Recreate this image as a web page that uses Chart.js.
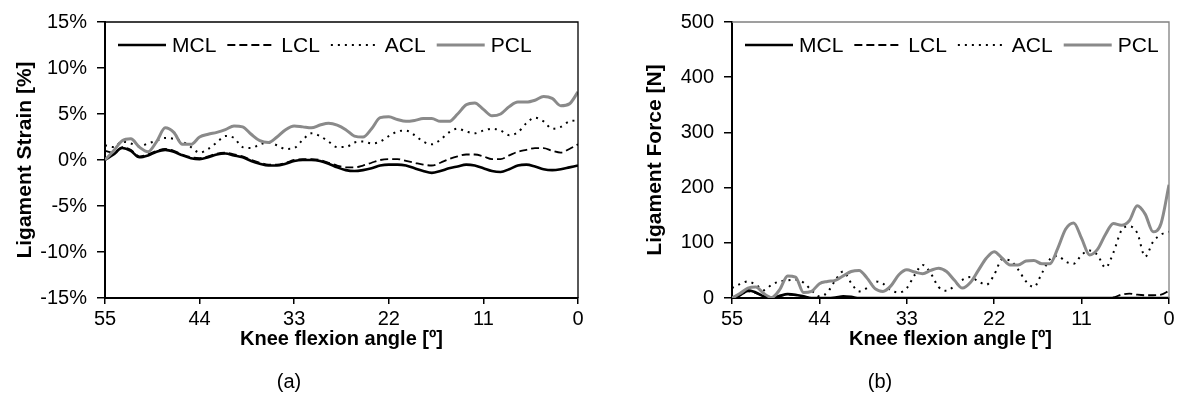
<!DOCTYPE html>
<html>
<head>
<meta charset="utf-8">
<script src="https://cdn.jsdelivr.net/npm/chart.js@4/dist/chart.umd.min.js"></script>
<style>
  body { margin: 0; background: #fff; }
  .panel { position: absolute; top: 0; width: 591px; height: 416px; }
</style>
</head>
<body>
<div class="panel" style="left:0"><canvas id="chartA"></canvas></div>
<div class="panel" style="left:591px"><canvas id="chartB"></canvas></div>
<script>
// knee flexion angle, degrees (x axis runs 55 -> 0)
const angles = [55, 54, 53, 52, 51, 50, 49, 48, 47, 46, 45, 44, 43, 42, 41, 40, 39, 38, 37, 36,
  35, 34, 33, 32, 31, 30, 29, 28, 27, 26, 25, 24, 23, 22, 21, 20, 19, 18, 17, 16,
  15, 14, 13, 12, 11, 10, 9, 8, 7, 6, 5, 4, 3, 2, 1, 0];
const angleTicks = [55, 44, 33, 22, 11, 0];
const ligaments = ['MCL', 'LCL', 'ACL', 'PCL'];

// (a) ligament strain, %
const strainMCL = [0.0, 0.6, 1.3, 1.0, 0.3, 0.5, 0.9, 1.1, 0.9, 0.5, 0.2, 0.1, 0.3, 0.6, 0.7, 0.5, 0.3, -0.1, -0.4, -0.6,
  -0.6, -0.4, -0.1, 0.0, 0.0, -0.1, -0.4, -0.8, -1.1, -1.2, -1.1, -0.9, -0.6, -0.5, -0.5, -0.6, -0.9, -1.2, -1.4, -1.2,
  -0.9, -0.7, -0.5, -0.6, -0.9, -1.2, -1.3, -1.0, -0.6, -0.5, -0.7, -1.0, -1.1, -1.0, -0.8, -0.6];
const strainLCL = [1.0, 0.8, 1.4, 1.1, 0.4, 0.6, 1.0, 1.2, 1.0, 0.6, 0.3, 0.2, 0.4, 0.7, 0.8, 0.6, 0.4, 0.0, -0.3, -0.5,
  -0.5, -0.3, 0.0, 0.1, 0.1, 0.0, -0.3, -0.6, -0.8, -0.8, -0.6, -0.3, 0.0, 0.1, 0.1, -0.1, -0.3, -0.5, -0.6, -0.3,
  0.1, 0.4, 0.6, 0.6, 0.4, 0.1, 0.1, 0.5, 0.9, 1.1, 1.3, 1.3, 1.0, 0.8, 1.2, 1.7];
const strainACL = [1.6, 1.4, 2.0, 1.8, 1.5, 1.8, 2.1, 2.4, 2.3, 2.0, 1.4, 0.8, 1.2, 1.9, 2.6, 2.4, 1.4, 1.3, 1.7, 1.9,
  1.6, 1.2, 1.3, 2.2, 2.9, 2.6, 2.0, 1.4, 1.4, 1.9, 2.0, 1.8, 2.0, 2.6, 3.1, 3.2, 2.7, 2.0, 1.7, 2.2,
  3.0, 3.4, 3.1, 2.9, 3.2, 3.4, 3.2, 2.7, 3.0, 4.0, 4.6, 4.2, 3.4, 3.6, 4.2, 4.3];
const strainPCL = [0.0, 1.0, 2.1, 2.3, 1.4, 0.9, 2.0, 3.5, 3.0, 1.7, 1.7, 2.5, 2.8, 3.0, 3.3, 3.7, 3.6, 2.8, 2.1, 1.9,
  2.5, 3.3, 3.7, 3.6, 3.5, 3.8, 4.0, 3.8, 3.3, 2.6, 2.5, 3.4, 4.6, 4.7, 4.4, 4.2, 4.3, 4.5, 4.5, 4.2,
  4.2, 5.0, 6.0, 6.2, 5.5, 4.8, 5.0, 5.8, 6.3, 6.3, 6.5, 6.9, 6.7, 5.9, 6.1, 7.4];
const strainTicks = [-15, -10, -5, 0, 5, 10, 15];

// (b) ligament force, N
const forceMCL = [0, 5, 14, 10, 3, 0, 4, 7, 6, 3, 0, 0, 0, 1, 3, 2, 0, 0, 0, 0,
  0, 0, 0, 0, 0, 0, 0, 0, 0, 0, 0, 0, 0, 0, 0, 0, 0, 0, 0, 0,
  0, 0, 0, 0, 0, 0, 0, 0, 0, 0, 0, 0, 0, 0, 0, 0];
const forceLCL = [0, 4, 12, 9, 3, 0, 3, 6, 5, 2, 0, 0, 0, 0, 0, 0, 0, 0, 0, 0,
  0, 0, 0, 0, 0, 0, 0, 0, 0, 0, 0, 0, 0, 0, 0, 0, 0, 0, 0, 0,
  0, 0, 0, 0, 0, 0, 0, 0, 1, 6, 8, 6, 5, 5, 6, 13];
const forceACL = [18, 25, 30, 24, 14, 24, 30, 32, 33, 28, 14, 3, 10, 32, 48, 27, 12, 18, 30, 26,
  14, 10, 18, 42, 60, 45, 20, 13, 22, 33, 38, 30, 24, 42, 70, 68, 52, 30, 20, 45,
  70, 76, 66, 62, 78, 86, 78, 55, 82, 122, 130, 118, 75, 102, 115, 120];
const forcePCL = [0, 8, 18, 20, 8, 1, 15, 40, 38, 10, 12, 26, 30, 32, 40, 48, 50, 36, 17, 12,
  22, 42, 51, 47, 44, 50, 54, 48, 32, 18, 28, 50, 72, 84, 72, 60, 60, 67, 68, 62,
  62, 90, 125, 136, 108, 78, 88, 115, 135, 132, 140, 167, 152, 120, 135, 205];
const forceTicks = [0, 100, 200, 300, 400, 500];

const FONT = '"Liberation Sans", Arial, Helvetica, sans-serif';
Chart.defaults.font.family = FONT;
Chart.defaults.font.size = 20;
Chart.defaults.color = '#000';

const lineStyles = [
  { borderColor: '#000', borderWidth: 2.6, borderDash: [] },
  { borderColor: '#000', borderWidth: 1.8, borderDash: [8, 4] },
  { borderColor: '#000', borderWidth: 2, borderDash: [2, 5] },
  { borderColor: '#8a8a8a', borderWidth: 3, borderDash: [] },
];

// legend drawn inside the plot, Excel style
const insideLegend = {
  id: 'insideLegend',
  afterDraw(chart, args, opts) {
    const { ctx, chartArea } = chart;
    let x = chartArea.left + opts.x;
    const y = chartArea.top + opts.y;
    ctx.save();
    ctx.font = '21px ' + FONT;
    ctx.textBaseline = 'middle';
    chart.data.datasets.forEach(ds => {
      ctx.beginPath();
      ctx.setLineDash(ds.borderDash);
      ctx.lineWidth = ds.borderWidth;
      ctx.strokeStyle = ds.borderColor;
      ctx.moveTo(x, y);
      ctx.lineTo(x + 48, y);
      ctx.stroke();
      ctx.setLineDash([]);
      ctx.fillStyle = '#000';
      ctx.fillText(ds.label, x + 54, y + 1);
      x += 54 + ctx.measureText(ds.label).width + 11;
    });
    ctx.restore();
  }
};

// thin box on top and right of the plot
const plotFrame = {
  id: 'plotFrame',
  afterDraw(chart, args, opts) {
    const { ctx, chartArea: a } = chart;
    ctx.save();
    ctx.strokeStyle = opts.color;
    ctx.lineWidth = 1.3;
    ctx.beginPath();
    ctx.moveTo(a.left, a.top);
    ctx.lineTo(a.right, a.top);
    ctx.lineTo(a.right, a.bottom);
    ctx.stroke();
    ctx.restore();
  }
};

function makeDatasets(series) {
  return series.map((vals, i) => ({
    label: ligaments[i],
    data: angles.map((a, j) => ({ x: a, y: vals[j] })),
    ...lineStyles[i],
    pointRadius: 0,
    fill: false,
    cubicInterpolationMode: 'monotone',
    order: 4 - i,
  }));
}

function makeChart(id, cfg) {
  return new Chart(document.getElementById(id), {
    type: 'line',
    data: { datasets: makeDatasets(cfg.series) },
    options: {
      responsive: true,
      maintainAspectRatio: false,
      animation: false,
      layout: { padding: { left: 0, right: 13, top: cfg.top, bottom: 21.6 } },
      plugins: {
        legend: { display: false },
        tooltip: { enabled: false },
        subtitle: {
          display: true, text: cfg.letter, position: 'bottom',
          font: { size: 20 }, color: '#000', padding: { top: 0, bottom: 0 },
        },
        insideLegend: { x: 13, y: 23 },
        plotFrame: { color: cfg.frameColor },
      },
      scales: {
        x: {
          type: 'linear', reverse: true, min: 0, max: 55,
          afterBuildTicks: s => { s.ticks = angleTicks.map(v => ({ value: v })); },
          afterFit: s => { s.height = 72.4; },
          ticks: { padding: 3, maxRotation: 0, color: '#000' },
          grid: { drawOnChartArea: false, drawTicks: true, tickLength: 6, color: '#000', lineWidth: 1.5 },
          border: { display: true, color: '#000', width: 2 },
          title: {
            display: true, text: 'Knee flexion angle [º]', color: '#000',
            font: { size: 20, weight: 'bold' }, padding: { top: 0, bottom: 19.4 },
          },
        },
        y: {
          min: cfg.ticks[0], max: cfg.ticks[cfg.ticks.length - 1],
          afterBuildTicks: s => { s.ticks = cfg.ticks.map(v => ({ value: v })); },
          afterFit: s => { s.width = cfg.yWidth; },
          ticks: { padding: 10, color: '#000', callback: cfg.fmt },
          grid: { drawOnChartArea: false, drawTicks: true, tickLength: 8, color: '#000', lineWidth: 1.5 },
          border: { display: true, color: '#000', width: 2 },
          title: {
            display: true, text: cfg.yTitle, color: '#000',
            font: { size: 21, weight: 'bold' }, padding: { top: cfg.yTitlePad, bottom: 0 },
          },
        },
      },
    },
    plugins: [insideLegend, plotFrame],
  });
}

makeChart('chartA', {
  series: [strainMCL, strainLCL, strainACL, strainPCL],
  ticks: strainTicks, fmt: v => v + '%',
  yTitle: 'Ligament Strain [%]', yTitlePad: 13, yWidth: 105,
  top: 17, letter: '(a)', frameColor: '#000',
});

makeChart('chartB', {
  series: [forceMCL, forceLCL, forceACL, forcePCL],
  ticks: forceTicks, fmt: v => v,
  yTitle: 'Ligament Force [N]', yTitlePad: 52, yWidth: 141,
  top: 19, letter: '(b)', frameColor: '#808080',
});
</script>
</body>
</html>
